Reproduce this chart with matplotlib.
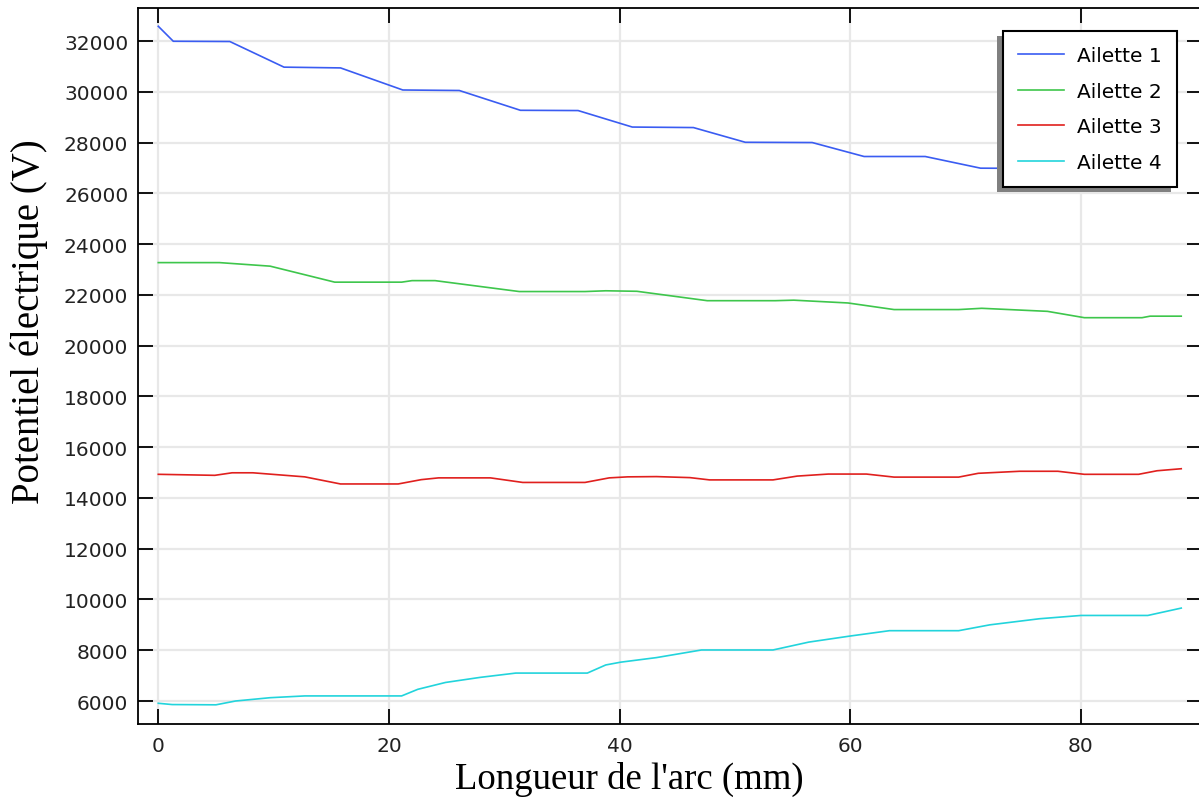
import matplotlib
matplotlib.use('Agg')
import matplotlib.pyplot as plt
from matplotlib.patches import Rectangle
from matplotlib.transforms import IdentityTransform

# Ailette 1
x1 = [0, 1.3, 6.2, 10.9, 15.8, 21.2, 26.1, 31.4, 36.4, 41.1, 46.4, 50.9, 56.7, 61.2, 66.5, 71.3, 76.5, 81.0, 86.0]
y1 = [32580, 31990, 31980, 30970, 30940, 30070, 30050, 29270, 29260, 28610, 28590, 28010, 28000, 27450, 27450, 26990, 26980, 26500, 26490]

# Ailette 2
x2 = [0, 5.3, 9.7, 15.3, 21.1, 22.0, 24.0, 31.3, 37.0, 38.8, 41.5, 47.6, 53.5, 55.1, 59.8, 63.8, 69.4, 71.4, 77.1, 80.3, 85.3, 86.0, 88.7]
y2 = [23270, 23270, 23130, 22500, 22500, 22560, 22560, 22130, 22130, 22160, 22140, 21770, 21770, 21790, 21680, 21420, 21420, 21470, 21350, 21100, 21100, 21160, 21160]

# Ailette 3
x3 = [0, 4.9, 6.4, 8.2, 12.7, 15.8, 20.8, 22.8, 24.3, 28.8, 31.6, 37.0, 39.1, 40.7, 43.2, 46.1, 47.8, 53.3, 55.4, 58.1, 61.4, 63.8, 69.4, 71.1, 74.7, 78.0, 80.3, 85.0, 86.6, 88.7]
y3 = [14930, 14890, 14990, 14990, 14830, 14550, 14550, 14720, 14790, 14790, 14610, 14610, 14790, 14830, 14840, 14800, 14710, 14710, 14860, 14940, 14940, 14820, 14820, 14970, 15050, 15050, 14930, 14930, 15070, 15150]

# Ailette 4
x4 = [0, 1.2, 5.0, 6.7, 9.7, 12.7, 21.1, 22.5, 24.9, 27.9, 31.0, 37.2, 38.8, 40.1, 43.2, 47.1, 53.3, 56.4, 60.0, 63.4, 69.4, 72.1, 76.4, 80.0, 85.8, 88.7]
y4 = [5910, 5860, 5850, 6000, 6130, 6200, 6200, 6460, 6730, 6930, 7100, 7100, 7420, 7530, 7710, 8010, 8010, 8320, 8560, 8770, 8770, 9000, 9240, 9370, 9370, 9660]

labels = ['Ailette 1', 'Ailette 2', 'Ailette 3', 'Ailette 4']
colors = ['#3a5cf2', '#3ec64c', '#e0201e', '#22d4dc']

fig = plt.figure(figsize=(11.99, 8.03), dpi=100)
ax = fig.add_axes([138/1199, 1-725/803, (1202-138)/1199, (725-9)/803])

for xs, ys, lab, c in zip([x1, x2, x3, x4], [y1, y2, y3, y4], labels, colors):
    ax.plot(xs, ys, color=c, linewidth=1.2, label=lab)

ax.set_xlim(-1.76, 90.5)
ax.set_ylim(5094, 33300)
ax.set_xticks([0, 20, 40, 60, 80])
ax.set_yticks(range(6000, 32001, 2000))

ax.grid(True, color='#e8e8e8', linewidth=1.6)
ax.set_axisbelow(True)
for s in ax.spines.values():
    s.set_linewidth(1.3)
    s.set_color('black')

ax.tick_params(direction='in', length=11, width=1.3, top=True, right=True,
               labelsize=14.5, labelcolor='#222222')
ax.tick_params(axis='y', pad=7)
ax.tick_params(axis='x', pad=8.5)

ax.set_xlabel("Longueur de l'arc (mm)", fontsize=26.5, family='Liberation Serif')
ax.set_ylabel('Potentiel électrique (V)', fontsize=28, family='Liberation Serif')
ax.xaxis.set_label_coords(0.462, -0.052)
ax.yaxis.set_label_coords(-0.085, 0.563)

leg = ax.legend(loc='upper right', bbox_to_anchor=(1177/1199, 1-32/803),
                bbox_transform=fig.transFigure, borderaxespad=0,
                fontsize=14.5, fancybox=False, shadow=False,
                handlelength=2.3, handletextpad=0.65, labelspacing=0.82,
                borderpad=0.75, framealpha=1)
leg.get_frame().set_edgecolor('black')
leg.get_frame().set_linewidth(1.5)

fig.canvas.draw()
bb = leg.get_window_extent()
sh = Rectangle((bb.x0 - 6, bb.y0 - 5), bb.width, bb.height, transform=IdentityTransform(),
               facecolor='#808080', edgecolor='none', zorder=4.9, clip_on=False)
ax.add_artist(sh)

plt.savefig('out.png', dpi=100)
